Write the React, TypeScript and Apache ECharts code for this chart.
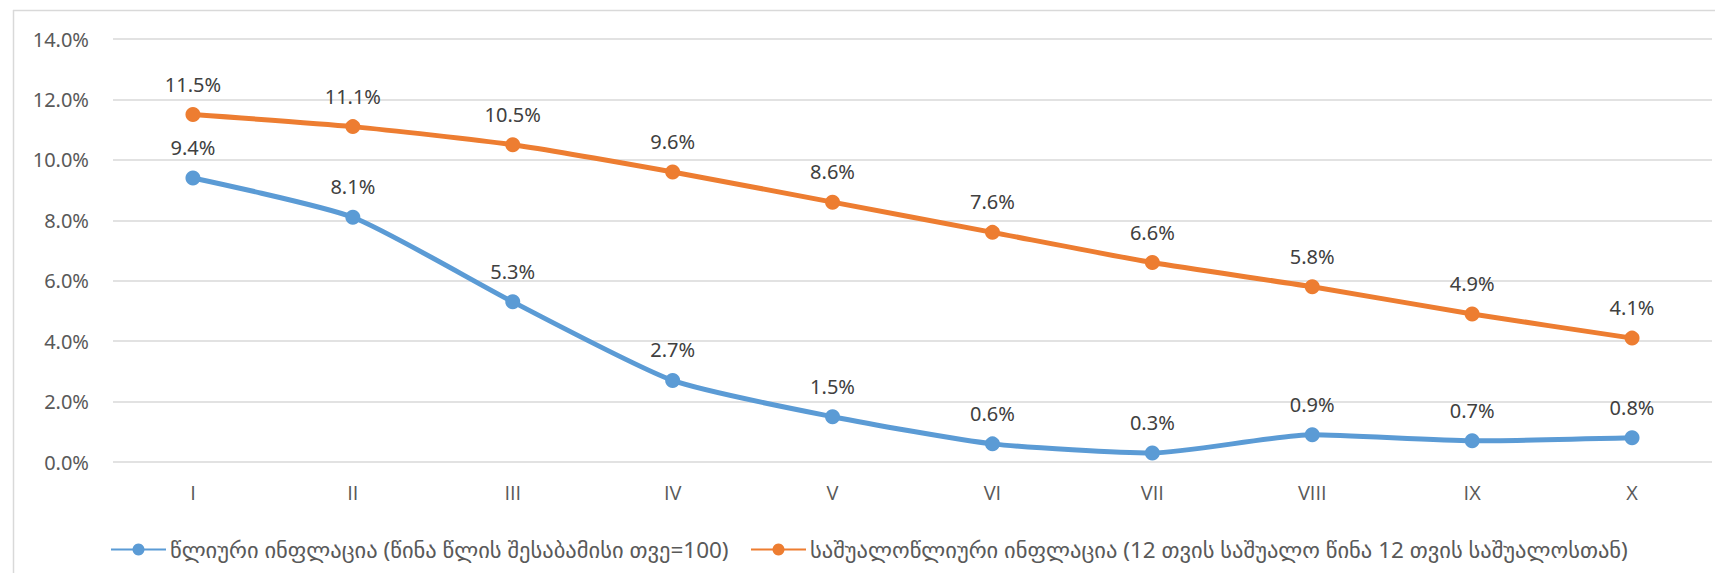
import React, { useEffect, useRef } from "react";
import * as echarts from "echarts";

const categories = ["I", "II", "III", "IV", "V", "VI", "VII", "VIII", "IX", "X"];
const annualInflation = [9.4, 8.1, 5.3, 2.7, 1.5, 0.6, 0.3, 0.9, 0.7, 0.8];
const avgAnnualInflation = [11.5, 11.1, 10.5, 9.6, 8.6, 7.6, 6.6, 5.8, 4.9, 4.1];
const seriesNames = [
  "წლიური ინფლაცია (წინა წლის შესაბამისი თვე=100)",
  "საშუალოწლიური ინფლაცია (12 თვის საშუალო წინა 12 თვის საშუალოსთან)",
];
const yTicks = { min: 0, max: 14, interval: 2 };

const FONT = "'Noto Sans', 'DejaVu Sans', sans-serif";
const XFONT = "'Open Sans', 'DejaVu Sans', sans-serif";

export default function App() {
  const ref = useRef<HTMLDivElement>(null);
  useEffect(() => {
    if (!ref.current) return;
    const chart = echarts.init(ref.current, undefined, { renderer: "svg" });
    const mkSeries = (name: string, data: number[], color: string) => ({
      name,
      type: "line",
      data,
      smooth: 0.2,
      symbol: "circle",
      symbolSize: 15,
      itemStyle: { color },
      lineStyle: { color, width: 5 },
      label: {
        show: true,
        position: "top",
        distance: 13,
        formatter: (p: any) => p.value.toFixed(1) + "%",
        color: "#404040",
        fontSize: 20,
        fontFamily: FONT,
      },
    });
    const legendText = { color: "#595959", fontSize: 22.5, fontFamily: FONT, padding: [0, 0, 0, -1] };
    chart.setOption({
      animation: false,
      textStyle: { fontFamily: FONT },
      grid: { left: 105, right: 3, top: 31, bottom: 111, containLabel: false },
      xAxis: {
        type: "category",
        data: categories,
        boundaryGap: true,
        axisLine: { show: false },
        axisTick: { show: false },
        axisLabel: { color: "#595959", fontSize: 20, margin: 20, fontFamily: XFONT },
      },
      yAxis: {
        type: "value",
        min: yTicks.min,
        max: yTicks.max,
        interval: yTicks.interval,
        axisLine: { show: false },
        axisTick: { show: false },
        axisLabel: {
          color: "#595959",
          fontSize: 20,
          margin: 24,
          fontFamily: FONT,
          formatter: (v: number) => v.toFixed(1) + "%",
        },
        splitLine: { lineStyle: { color: "#D9D9D9", width: 1.5 } },
      },
      legend: [
        {
          data: [seriesNames[0]],
          left: 97,
          top: 525,
          itemWidth: 55,
          itemHeight: 15,
          textStyle: legendText,
        },
        {
          data: [seriesNames[1]],
          left: 737,
          top: 525,
          itemWidth: 55,
          itemHeight: 15,
          textStyle: legendText,
        },
      ],
      graphic: [
        { type: "line", shape: { x1: 5, y1: 2.5, x2: 1707, y2: 2.5 }, style: { stroke: "#D9D9D9", lineWidth: 1.5 } },
        { type: "line", shape: { x1: 5.5, y1: 2, x2: 5.5, y2: 565 }, style: { stroke: "#D9D9D9", lineWidth: 1.5 } },
      ],
      series: [
        mkSeries(seriesNames[0], annualInflation, "#5B9BD5"),
        mkSeries(seriesNames[1], avgAnnualInflation, "#ED7D31"),
      ],
    });
    return () => chart.dispose();
  }, []);
  return <div ref={ref} style={{ width: 1707, height: 565 }} />;
}
